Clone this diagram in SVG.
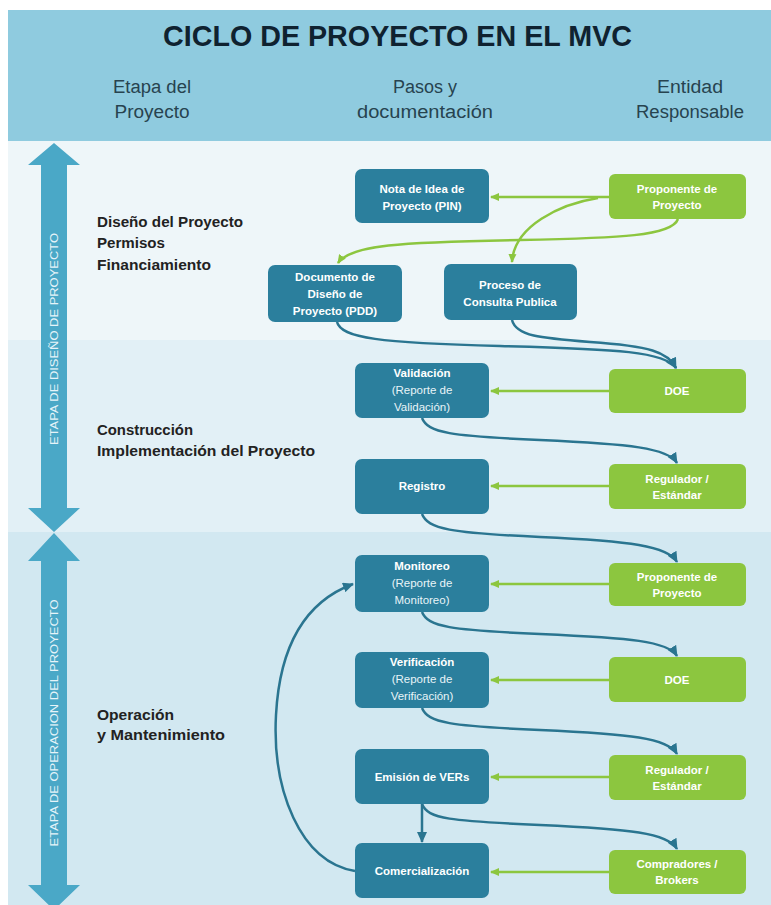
<svg xmlns="http://www.w3.org/2000/svg" width="771" height="905" viewBox="0 0 771 905">
<style>
.title{font-family:"Liberation Sans",Arial,sans-serif;font-weight:bold;font-size:30px;fill:#0f2230;}
.col{font-family:"Liberation Sans",Arial,sans-serif;font-size:18px;fill:#27434f;text-anchor:middle;}
.stage{font-family:"Liberation Sans",Arial,sans-serif;font-size:14px;font-weight:bold;fill:#222;}
.vt{font-family:"Liberation Sans",Arial,sans-serif;font-size:11px;fill:#e6f4f9;text-anchor:middle;}
.nb{fill:#2b7f9d;}
.ng{fill:#8cc63f;}
.nt{font-family:"Liberation Sans",Arial,sans-serif;font-size:11.5px;font-weight:bold;fill:#fff;text-anchor:middle;}
.nn{font-weight:normal;fill:#e8f4f8;}
.cb{fill:none;stroke:#2a7590;stroke-width:2.5;marker-end:url(#ab);}
.cg{fill:none;stroke:#8cc63f;stroke-width:2.5;marker-end:url(#ag);}
.bigarrow{fill:#4aa8c7;}
</style>
<defs>
<marker id="ab" markerUnits="userSpaceOnUse" markerWidth="12" markerHeight="10" refX="10" refY="5" orient="auto">
<path d="M0,0 L11,5 L0,10 Z" fill="#2a7590"/>
</marker>
<marker id="ag" markerUnits="userSpaceOnUse" markerWidth="10" markerHeight="10" refX="8" refY="5" orient="auto">
<path d="M0,1 L9,5 L0,9 Z" fill="#8cc63f"/>
</marker>
</defs>
<rect x="0" y="0" width="771" height="905" fill="#ffffff"/>
<!-- backgrounds -->
<rect x="8" y="10" width="763" height="131" fill="#8fcbdf"/>
<rect x="8" y="141" width="763" height="199" fill="#eef6f9"/>
<rect x="8" y="340" width="763" height="192" fill="#e2f0f6"/>
<rect x="8" y="532" width="763" height="373" fill="#d2e8f1"/>
<!-- header -->
<text class="title" x="163" y="46" textLength="469" lengthAdjust="spacingAndGlyphs">CICLO DE PROYECTO EN EL MVC</text>
<text class="col" x="152" y="93" textLength="78" lengthAdjust="spacingAndGlyphs">Etapa del</text>
<text class="col" x="152" y="118" textLength="75" lengthAdjust="spacingAndGlyphs">Proyecto</text>
<text class="col" x="425" y="93" textLength="64" lengthAdjust="spacingAndGlyphs">Pasos y</text>
<text class="col" x="425" y="118" textLength="136" lengthAdjust="spacingAndGlyphs">documentación</text>
<text class="col" x="690" y="93" textLength="66" lengthAdjust="spacingAndGlyphs">Entidad</text>
<text class="col" x="690" y="118" textLength="108" lengthAdjust="spacingAndGlyphs">Responsable</text>
<!-- left double arrows -->
<g id="arrow-diseno">
<path class="bigarrow" d="M54,143 L80,165 L67,165 L67,508 L80,508 L54,532 L28,508 L41,508 L41,165 L28,165 Z"/>
<text class="vt" transform="translate(58,339) rotate(-90)" textLength="212" lengthAdjust="spacingAndGlyphs">ETAPA DE DISEÑO DE PROYECTO</text>
</g>
<g id="arrow-operacion">
<path class="bigarrow" d="M54,533 L80,561 L67,561 L67,885 L80,885 L54,910 L28,885 L41,885 L41,561 L28,561 Z"/>
<text class="vt" transform="translate(58,723) rotate(-90)" textLength="247" lengthAdjust="spacingAndGlyphs">ETAPA DE OPERACION DEL PROYECTO</text>
</g>
<!-- stage labels -->
<g id="stage-labels">
<text class="stage" x="97" y="227" textLength="146" lengthAdjust="spacingAndGlyphs">Diseño del Proyecto</text>
<text class="stage" x="97" y="248" textLength="68" lengthAdjust="spacingAndGlyphs">Permisos</text>
<text class="stage" x="97" y="270" textLength="114" lengthAdjust="spacingAndGlyphs">Financiamiento</text>
<text class="stage" x="97" y="435" textLength="96" lengthAdjust="spacingAndGlyphs">Construcción</text>
<text class="stage" x="97" y="456" textLength="218" lengthAdjust="spacingAndGlyphs">Implementación del Proyecto</text>
<text class="stage" x="97" y="720" textLength="77" lengthAdjust="spacingAndGlyphs">Operación</text>
<text class="stage" x="97" y="740" textLength="128" lengthAdjust="spacingAndGlyphs">y Mantenimiento</text>
</g>
<!-- connectors -->
<g id="connectors">
<path class="cg" d="M609,197 L491,197"/>
<path class="cg" d="M598,198 C560,204 514,226 512,262"/>
<path class="cg" d="M678,219 C672,236 620,238 520,240 C400,242 350,245 338,263"/>
<path class="cg" d="M609,391 L491,391"/>
<path class="cg" d="M609,486 L491,486"/>
<path class="cg" d="M609,584 L491,584"/>
<path class="cg" d="M609,680 L491,680"/>
<path class="cg" d="M609,777 L491,777"/>
<path class="cg" d="M609,872 L491,872"/>
<path class="cb" d="M337,322 C341,338 380,343 500,346 C620,349 665,352 676,368"/>
<path class="cb" d="M512,320 C516,336 540,338 590,342 C650,346 668,352 676,368"/>
<path class="cb" d="M422,418 C428,433 450,436 540,440 C630,444 668,448 677,463"/>
<path class="cb" d="M422,514 C428,529 450,533 540,537 C630,541 668,546 677,562"/>
<path class="cb" d="M422,612 C428,627 450,630 540,634 C630,638 668,641 677,656"/>
<path class="cb" d="M422,708 C428,723 450,726 540,730 C630,734 668,738 677,754"/>
<path class="cb" d="M422,804 C428,819 450,821 540,825 C630,829 668,833 677,849"/>
<path class="cb" d="M422,804 L422,842"/>
<path class="cb" d="M355,871 C300,862 272,790 276,715 C280,640 310,600 353,584"/>
</g>
<!-- nodes -->
<g id="n-pin"><rect class="nb" x="355" y="169" width="134" height="54" rx="7"/>
<text class="nt" x="422" y="193">Nota de Idea de</text><text class="nt" x="422" y="210">Proyecto (PIN)</text></g>
<g id="n-proponente1"><rect class="ng" x="609" y="174" width="137" height="45" rx="6"/>
<text class="nt" x="677" y="193">Proponente de</text><text class="nt" x="677" y="209">Proyecto</text></g>
<g id="n-pdd"><rect class="nb" x="268" y="265" width="134" height="57" rx="7"/>
<text class="nt" x="335" y="281">Documento de</text><text class="nt" x="335" y="298">Diseño de</text><text class="nt" x="335" y="315">Proyecto (PDD)</text></g>
<g id="n-consulta"><rect class="nb" x="444" y="264" width="133" height="56" rx="7"/>
<text class="nt" x="510" y="289">Proceso de</text><text class="nt" x="510" y="306">Consulta Publica</text></g>
<g id="n-validacion"><rect class="nb" x="355" y="363" width="134" height="55" rx="7"/>
<text class="nt" x="422" y="377">Validación</text><text class="nt nn" x="422" y="394">(Reporte de</text><text class="nt nn" x="422" y="411">Validación)</text></g>
<g id="n-doe1"><rect class="ng" x="609" y="369" width="137" height="44" rx="6"/>
<text class="nt" x="677" y="395">DOE</text></g>
<g id="n-registro"><rect class="nb" x="355" y="459" width="134" height="55" rx="7"/>
<text class="nt" x="422" y="490">Registro</text></g>
<g id="n-regulador1"><rect class="ng" x="609" y="464" width="137" height="45" rx="6"/>
<text class="nt" x="677" y="483">Regulador /</text><text class="nt" x="677" y="499">Estándar</text></g>
<g id="n-monitoreo"><rect class="nb" x="355" y="555" width="134" height="57" rx="7"/>
<text class="nt" x="422" y="570">Monitoreo</text><text class="nt nn" x="422" y="587">(Reporte de</text><text class="nt nn" x="422" y="604">Monitoreo)</text></g>
<g id="n-proponente2"><rect class="ng" x="609" y="563" width="137" height="43" rx="6"/>
<text class="nt" x="677" y="581">Proponente de</text><text class="nt" x="677" y="597">Proyecto</text></g>
<g id="n-verificacion"><rect class="nb" x="355" y="652" width="134" height="56" rx="7"/>
<text class="nt" x="422" y="666">Verificación</text><text class="nt nn" x="422" y="683">(Reporte de</text><text class="nt nn" x="422" y="700">Verificación)</text></g>
<g id="n-doe2"><rect class="ng" x="609" y="657" width="137" height="45" rx="6"/>
<text class="nt" x="677" y="684">DOE</text></g>
<g id="n-emision"><rect class="nb" x="355" y="749" width="134" height="55" rx="7"/>
<text class="nt" x="422" y="781">Emisión de VERs</text></g>
<g id="n-regulador2"><rect class="ng" x="609" y="755" width="137" height="45" rx="6"/>
<text class="nt" x="677" y="774">Regulador /</text><text class="nt" x="677" y="790">Estándar</text></g>
<g id="n-comercializacion"><rect class="nb" x="355" y="843" width="134" height="55" rx="7"/>
<text class="nt" x="422" y="875">Comercialización</text></g>
<g id="n-compradores"><rect class="ng" x="609" y="850" width="137" height="44" rx="6"/>
<text class="nt" x="677" y="868">Compradores /</text><text class="nt" x="677" y="884">Brokers</text></g>
</svg>
